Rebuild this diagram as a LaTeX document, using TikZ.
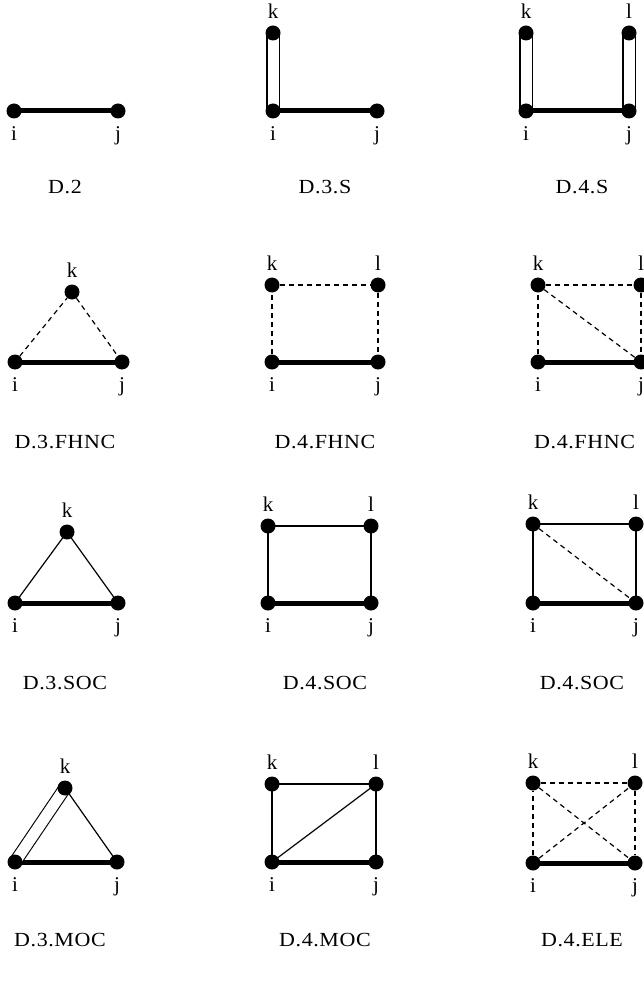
\documentclass[tikz,border=0pt]{standalone}
\usepackage{fontspec}
\setmainfont{Liberation Serif}
\newfontfamily\capfont[FakeStretch=1.1,LetterSpace=3]{Liberation Serif}
\usetikzlibrary{positioning,backgrounds}
\tikzset{
  vtx/.style   = {circle, fill=black, inner sep=0pt, minimum size=15pt},
  lbl/.style   = {font=\fontsize{21}{21}\selectfont, inner sep=0pt,
                  text height=14pt, text depth=5pt},
  capt/.style  = {font=\capfont\fontsize{20}{20}\selectfont, inner sep=0pt},
  bond/.style  = {line width=5pt},
  link/.style  = {line width=1.2pt},
  flink/.style = {line width=1.2pt, dash pattern=on 5pt off 4pt},
  dlink/.style = {line width=1.1pt, double=white, double distance=11pt},
}
\begin{document}
\begin{tikzpicture}[x=1pt, y=-1pt]
\useasboundingbox (0,0) rectangle (644,981);

% row 1: D.2, D.3.S, D.4.S
\node[vtx] (d2i) at (14,111) {};
\node[vtx] (d2j) at (118,111) {};
\node[lbl, below=8pt of d2i] (d2il) {i};
\node[lbl, below=8pt of d2j] (d2jl) {j};
\node[capt] (d2c) at (65,187) {D.2};

\node[vtx] (d3si) at (273,111) {};
\node[vtx] (d3sj) at (377,111) {};
\node[vtx] (d3sk) at (273,33) {};
\node[lbl, below=8pt of d3si] (d3sil) {i};
\node[lbl, below=8pt of d3sj] (d3sjl) {j};
\node[lbl, above=2pt of d3sk]  (d3skl) {k};
\node[capt] (d3sc) at (325,187) {D.3.S};

\node[vtx] (d4si) at (526,111) {};
\node[vtx] (d4sj) at (629,111) {};
\node[vtx] (d4sk) at (526,33) {};
\node[vtx] (d4sl) at (629,33) {};
\node[lbl, below=8pt of d4si] (d4sil) {i};
\node[lbl, below=8pt of d4sj] (d4sjl) {j};
\node[lbl, above=2pt of d4sk]  (d4skl) {k};
\node[lbl, above=2pt of d4sl]  (d4sll) {l};
\node[capt] (d4sc) at (582,187) {D.4.S};

% row 2: FHNC
\node[vtx] (d3fi) at (15,362) {};
\node[vtx] (d3fj) at (122,362) {};
\node[vtx] (d3fk) at (72,292) {};
\node[lbl, below=8pt of d3fi] (d3fil) {i};
\node[lbl, below=8pt of d3fj] (d3fjl) {j};
\node[lbl, above=2pt of d3fk]  (d3fkl) {k};
\node[capt] (d3fc) at (65,442) {D.3.FHNC};

\node[vtx] (d4fi) at (272,362) {};
\node[vtx] (d4fj) at (378,362) {};
\node[vtx] (d4fk) at (272,285) {};
\node[vtx] (d4fl) at (378,285) {};
\node[lbl, below=8pt of d4fi] (d4fil) {i};
\node[lbl, below=8pt of d4fj] (d4fjl) {j};
\node[lbl, above=2pt of d4fk]  (d4fkl) {k};
\node[lbl, above=2pt of d4fl]  (d4fll) {l};
\node[capt] (d4fc) at (325,442) {D.4.FHNC};

\node[vtx] (d4gi) at (538,362) {};
\node[vtx] (d4gj) at (641,362) {};
\node[vtx] (d4gk) at (538,285) {};
\node[vtx] (d4gl) at (641,285) {};
\node[lbl, below=8pt of d4gi] (d4gil) {i};
\node[lbl, below=8pt of d4gj] (d4gjl) {j};
\node[lbl, above=2pt of d4gk]  (d4gkl) {k};
\node[lbl, above=2pt of d4gl]  (d4gll) {l};
\node[capt, anchor=west] (d4gc) at (534,442) {D.4.FHNC};

% row 3: SOC
\node[vtx] (d3oi) at (15,603) {};
\node[vtx] (d3oj) at (118,603) {};
\node[vtx] (d3ok) at (67,532) {};
\node[lbl, below=8pt of d3oi] (d3oil) {i};
\node[lbl, below=8pt of d3oj] (d3ojl) {j};
\node[lbl, above=2pt of d3ok]  (d3okl) {k};
\node[capt] (d3oc) at (65,683) {D.3.SOC};

\node[vtx] (d4oi) at (268,603) {};
\node[vtx] (d4oj) at (371,603) {};
\node[vtx] (d4ok) at (268,526) {};
\node[vtx] (d4ol) at (371,526) {};
\node[lbl, below=8pt of d4oi] (d4oil) {i};
\node[lbl, below=8pt of d4oj] (d4ojl) {j};
\node[lbl, above=2pt of d4ok]  (d4okl) {k};
\node[lbl, above=2pt of d4ol]  (d4oll) {l};
\node[capt] (d4oc) at (325,683) {D.4.SOC};

\node[vtx] (d4pi) at (533,603) {};
\node[vtx] (d4pj) at (636,603) {};
\node[vtx] (d4pk) at (533,524) {};
\node[vtx] (d4pl) at (636,524) {};
\node[lbl, below=8pt of d4pi] (d4pil) {i};
\node[lbl, below=8pt of d4pj] (d4pjl) {j};
\node[lbl, above=2pt of d4pk]  (d4pkl) {k};
\node[lbl, above=2pt of d4pl]  (d4pll) {l};
\node[capt] (d4pc) at (582,683) {D.4.SOC};

% row 4: MOC, ELE
\node[vtx] (d3mi) at (15,862) {};
\node[vtx] (d3mj) at (117,862) {};
\node[vtx] (d3mk) at (65,788) {};
\node[lbl, below=8pt of d3mi] (d3mil) {i};
\node[lbl, below=8pt of d3mj] (d3mjl) {j};
\node[lbl, above=2pt of d3mk]  (d3mkl) {k};
\node[capt] (d3mc) at (60,940) {D.3.MOC};

\node[vtx] (d4mi) at (272,862) {};
\node[vtx] (d4mj) at (376,862) {};
\node[vtx] (d4mk) at (272,784) {};
\node[vtx] (d4ml) at (376,784) {};
\node[lbl, below=8pt of d4mi] (d4mil) {i};
\node[lbl, below=8pt of d4mj] (d4mjl) {j};
\node[lbl, above=2pt of d4mk]  (d4mkl) {k};
\node[lbl, above=2pt of d4ml]  (d4mll) {l};
\node[capt] (d4mc) at (325,940) {D.4.MOC};

\node[vtx] (d4ei) at (533,863) {};
\node[vtx] (d4ej) at (635,863) {};
\node[vtx] (d4ek) at (533,783) {};
\node[vtx] (d4el) at (635,783) {};
\node[lbl, below=8pt of d4ei] (d4eil) {i};
\node[lbl, below=8pt of d4ej] (d4ejl) {j};
\node[lbl, above=2pt of d4ek]  (d4ekl) {k};
\node[lbl, above=2pt of d4el]  (d4ell) {l};
\node[capt] (d4ec) at (582,940) {D.4.ELE};

% connectors, behind the vertices
\begin{scope}[on background layer]
\draw[bond] (d2i.center) -- (d2j.center);

\draw[bond]  (d3si.center) -- (d3sj.center);
\draw[dlink] (d3sk.center) -- (d3si.center);

\draw[bond]  (d4si.center) -- (d4sj.center);
\draw[dlink] (d4sk.center) -- (d4si.center);
\draw[dlink] (d4sl.center) -- (d4sj.center);

\draw[bond]  (d3fi.center) -- (d3fj.center);
\draw[flink] (d3fi) -- (d3fk) -- (d3fj);

\draw[bond]  (d4fi.center) -- (d4fj.center);
\draw[flink] (d4fi) -- (d4fk) -- (d4fl) -- (d4fj);

\draw[bond]  (d4gi.center) -- (d4gj.center);
\draw[flink] (d4gi) -- (d4gk) -- (d4gl) -- (d4gj);
\draw[flink] (d4gk) -- (d4gj);

\draw[bond] (d3oi.center) -- (d3oj.center);
\draw[link] (d3oi.center) -- (d3ok.center) -- (d3oj.center);

\draw[bond] (d4oi.center) -- (d4oj.center);
\draw[link] (d4oi.center) -- (d4ok.center) -- (d4ol.center) -- (d4oj.center);

\draw[bond]  (d4pi.center) -- (d4pj.center);
\draw[link]  (d4pi.center) -- (d4pk.center) -- (d4pl.center) -- (d4pj.center);
\draw[flink] (d4pk) -- (d4pj);

\draw[bond]  (d3mi.center) -- (d3mj.center);
\draw[dlink] (d3mi.center) -- (d3mk.center);
\draw[link]  (d3mk.center) -- (d3mj.center);

\draw[bond] (d4mi.center) -- (d4mj.center);
\draw[link] (d4mi.center) -- (d4mk.center) -- (d4ml.center) -- (d4mj.center);
\draw[link] (d4mi.center) -- (d4ml.center);

\draw[bond]  (d4ei.center) -- (d4ej.center);
\draw[flink] (d4ei) -- (d4ek) -- (d4el) -- (d4ej);
\draw[flink] (d4ek) -- (d4ej);
\draw[flink] (d4ei) -- (d4el);
\end{scope}
\end{tikzpicture}
\end{document}
